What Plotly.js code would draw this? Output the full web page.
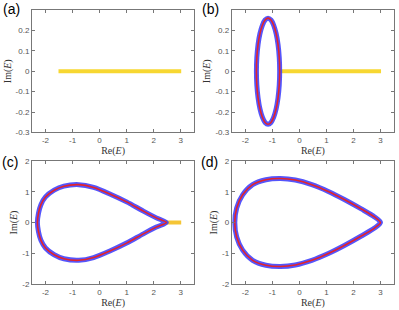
<!DOCTYPE html>
<html>
<head>
<meta charset="utf-8">
<script src="https://cdn.plot.ly/plotly-3.0.1.min.js"></script>
<style>html,body{margin:0;padding:0;background:#fff;}#chart{width:399px;height:310px;}</style>
</head>
<body>
<div id="chart"></div>
<script>
// ---- data ----
// (a) real spectrum
const realA_re = [-1.52, 3.02];
const realA_im = [0, 0];
// (b) loop + real segment
const loopB_re = [-0.73, -0.745, -0.79, -0.86, -0.95, -1.05, -1.16, -1.27, -1.37, -1.46, -1.53, -1.575, -1.59,
                  -1.575, -1.53, -1.46, -1.37, -1.27, -1.16, -1.05, -0.95, -0.86, -0.79, -0.745, -0.73];
const loopB_im = [0, 0.067, 0.13, 0.184, 0.225, 0.251, 0.26, 0.251, 0.225, 0.184, 0.13, 0.067, 0,
                  -0.067, -0.13, -0.184, -0.225, -0.251, -0.26, -0.251, -0.225, -0.184, -0.13, -0.067, 0];
const realB_re = [-0.72, 3.02];
const realB_im = [0, 0];
// (c) teardrop loop + short real segment
const loopC_re = [2.47, 2.1, 1.62, 1.0, 0.4, -0.22, -0.77, -1.32, -1.68, -2.0, -2.17, -2.26, -2.3,
                  -2.26, -2.17, -2.0, -1.68, -1.32, -0.77, -0.22, 0.4, 1.0, 1.62, 2.1, 2.47];
const loopC_im = [0, 0.15, 0.37, 0.67, 0.92, 1.14, 1.23, 1.18, 1.05, 0.83, 0.58, 0.3, 0,
                  -0.3, -0.58, -0.83, -1.05, -1.18, -1.23, -1.14, -0.92, -0.67, -0.37, -0.15, 0];
const realC_re = [2.47, 3.02];
const realC_im = [0, 0];
// (d) teardrop loop
const loopD_re = [3.0, 2.78, 2.29, 1.68, 1.07, 0.46, -0.15, -0.7, -1.24, -1.73, -2.1, -2.32, -2.39,
                  -2.32, -2.1, -1.73, -1.24, -0.7, -0.15, 0.46, 1.07, 1.68, 2.29, 2.78, 3.0];
const loopD_im = [0, 0.18, 0.44, 0.74, 1.01, 1.23, 1.38, 1.43, 1.39, 1.23, 0.9, 0.47, 0,
                  -0.47, -0.9, -1.23, -1.39, -1.43, -1.38, -1.23, -1.01, -0.74, -0.44, -0.18, 0];
// ticks
const xTicks = [-2, -1, 0, 1, 2, 3];
const yTicksTop = [-0.3, -0.2, -0.1, 0, 0.1, 0.2];
const yTicksBot = [-2, -1, 0, 1, 2];
const panelLabels = ['(a)', '(b)', '(c)', '(d)'];

const YELLOW = '#f7d731';
const BLUE = 'rgba(55,55,250,0.85)';
const RED = '#e3242b';

function realTrace(re, im, ax, col) {
  return {x: re, y: im, xaxis: 'x' + ax, yaxis: 'y' + ax, mode: 'lines', type: 'scatter',
          line: {color: col || YELLOW, width: 4}, hoverinfo: 'skip', showlegend: false};
}
function loopTraces(re, im, ax) {
  return [
    {x: re, y: im, xaxis: 'x' + ax, yaxis: 'y' + ax, mode: 'lines', type: 'scatter',
     line: {color: BLUE, width: 5, shape: 'spline', smoothing: 0.8}, showlegend: false, hoverinfo: 'skip'},
    {x: re, y: im, xaxis: 'x' + ax, yaxis: 'y' + ax, mode: 'lines', type: 'scatter',
     line: {color: RED, width: 1.6, shape: 'spline', smoothing: 0.8}, showlegend: false, hoverinfo: 'skip'}
  ];
}

const data = [
  realTrace(realA_re, realA_im, ''),
  realTrace(realB_re, realB_im, '2'),
  ...loopTraces(loopB_re, loopB_im, '2'),
  realTrace(realC_re, realC_im, '3', '#f5c535'),
  ...loopTraces(loopC_re, loopC_im, '3'),
  ...loopTraces(loopD_re, loopD_im, '4')
];

const tickFont = {family: 'Liberation Sans, Arial, sans-serif', size: 8, color: '#555'};
const titleFont = {family: 'Liberation Serif, Times New Roman, serif', size: 10, color: '#333'};
function xAx(domain, anchor) {
  return {domain: domain, anchor: anchor, range: [-2.5, 3.5], tickvals: xTicks, ticktext: xTicks.map(String),
          ticks: 'inside', ticklen: 3, tickcolor: '#777', showline: true, linecolor: '#777', linewidth: 1,
          mirror: 'ticks', showgrid: false, zeroline: false, tickfont: tickFont,
          title: {text: 'Re(<i>E</i>)', font: titleFont, standoff: 1}};
}
function yAx(domain, anchor, range, vals) {
  return {domain: domain, anchor: anchor, range: range, tickvals: vals, ticktext: vals.map(String),
          ticks: 'inside', ticklen: 3, tickcolor: '#777', showline: true, linecolor: '#777', linewidth: 1,
          mirror: 'ticks', showgrid: false, zeroline: false, tickfont: tickFont,
          title: {text: 'Im(<i>E</i>)', font: titleFont, standoff: 2}};
}

const layout = {
  width: 399, height: 310,
  margin: {l: 32, r: 5, t: 10, b: 26},
  paper_bgcolor: '#fff', plot_bgcolor: '#fff',
  showlegend: false,
  xaxis: xAx([0, 0.448], 'y'),
  yaxis: yAx([0.553, 1], 'x', [-0.3, 0.3], yTicksTop),
  xaxis2: xAx([0.552, 1], 'y2'),
  yaxis2: yAx([0.553, 1], 'x2', [-0.3, 0.3], yTicksTop),
  xaxis3: xAx([0, 0.448], 'y3'),
  yaxis3: yAx([0, 0.449], 'x3', [-2, 2], yTicksBot),
  xaxis4: xAx([0.552, 1], 'y4'),
  yaxis4: yAx([0, 0.449], 'x4', [-2, 2], yTicksBot),
  annotations: [
    {text: panelLabels[0], x: -0.058, y: 1.004},
    {text: panelLabels[1], x: 0.493, y: 1.002},
    {text: panelLabels[2], x: -0.061, y: 0.445},
    {text: panelLabels[3], x: 0.490, y: 0.445}
  ].map(a => Object.assign(a, {xref: 'paper', yref: 'paper', showarrow: false, xanchor: 'center', yanchor: 'middle',
      font: {family: 'Liberation Sans, Arial, sans-serif', size: 14, color: '#000'}}))
};

Plotly.newPlot('chart', data, layout, {staticPlot: true, displayModeBar: false});
</script>
</body>
</html>
